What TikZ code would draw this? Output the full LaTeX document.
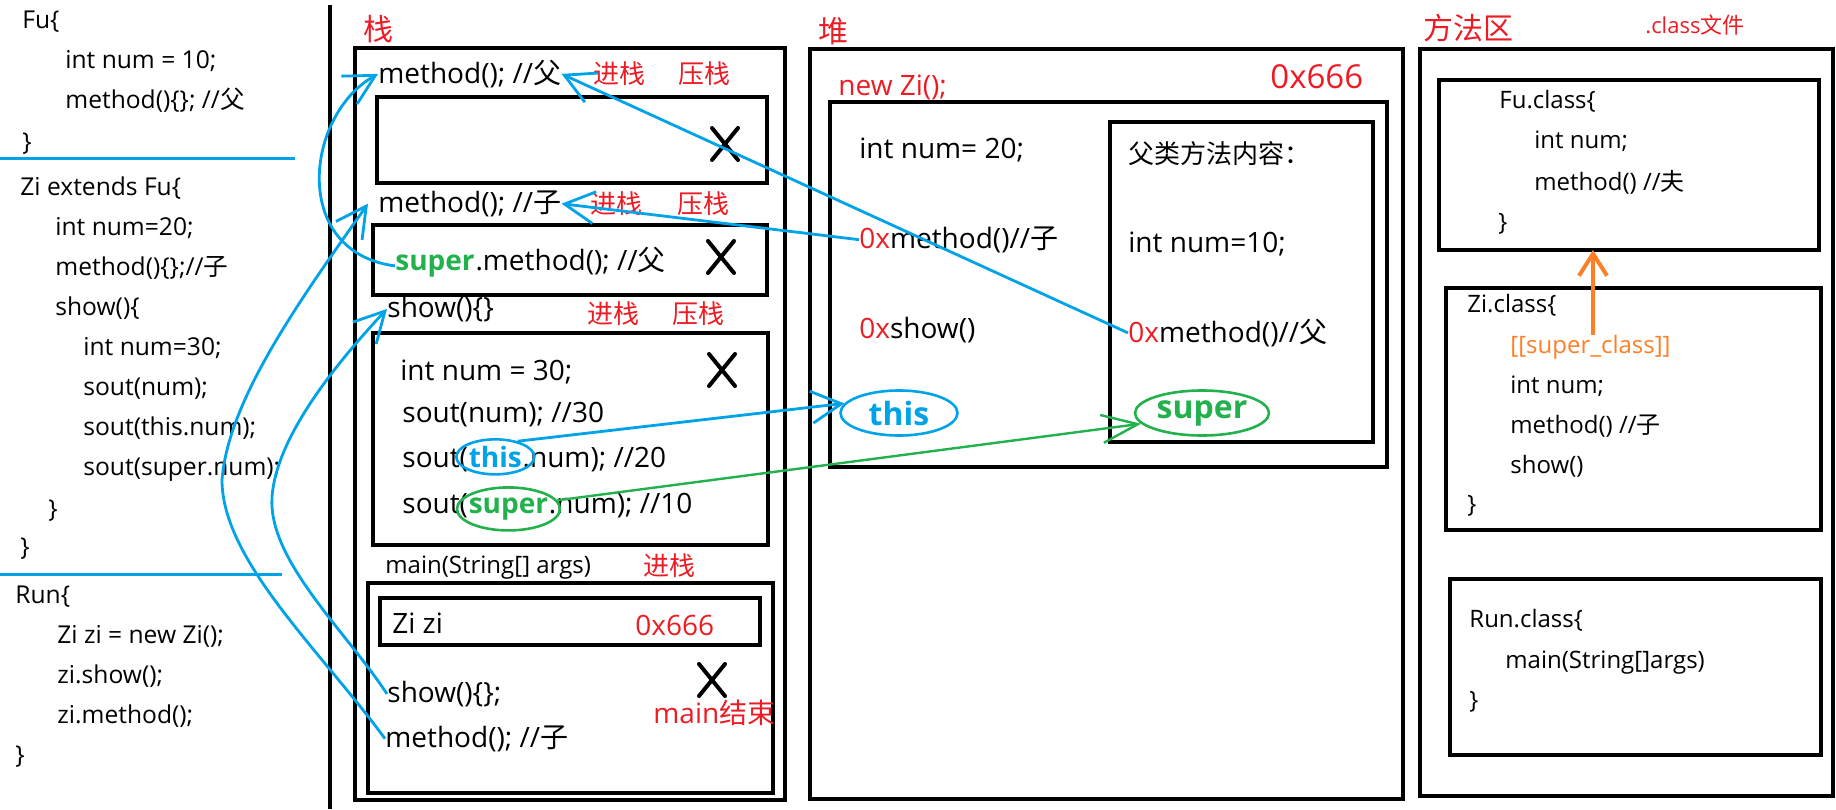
\documentclass[tikz,border=0pt]{standalone}
\usepackage{fontspec}
\setmainfont{Open Sans}
\newfontfamily\cjk{Noto Sans CJK SC}
\newcommand\zh[1]{{\cjk #1}}
\usetikzlibrary{arrows.meta,positioning,shapes.geometric}
\definecolor{MemRed}{HTML}{ED1C24}
\definecolor{MemBlue}{HTML}{00A2E8}
\definecolor{MemGreen}{HTML}{22B14C}
\definecolor{MemOrange}{HTML}{FF7F27}
\tikzset{every node/.style={inner sep=0pt,anchor=mid west},
 memline/.style={draw,line width=2.2pt},
 code/.style={font=\fontsize{12.3}{15}\selectfont},
 stk/.style={font=\fontsize{14}{17}\selectfont},
 stkb/.style={font=\fontsize{14}{17}\selectfont\bfseries},
 cls/.style={font=\fontsize{12}{14}\selectfont},
 tag/.style={text=MemRed,font=\cjk\fontsize{13}{15}\selectfont},
 area/.style={text=MemRed,font=\cjk\fontsize{15}{18}\selectfont},
 crossmark/.style={line width=2pt,line cap=round},
 hoop/.style={ellipse,line width=1.3pt,anchor=center},
 callarrow/.style={draw=MemBlue,line width=1.4pt,-{Straight Barb[length=15pt,width=16pt]}},
 superarrow/.style={draw=MemGreen,line width=1.2pt,-{Straight Barb[length=18pt,width=14pt]}}}
\begin{document}
\begin{tikzpicture}[x=0.5pt,y=-0.5pt]
\useasboundingbox (0,0) rectangle (1836,809);
% source code column
\foreach \x/\y/\t [count=\i] in {22/23/{Fu\{},65/63/{int num = 10;},65/103/{method()\{\}; //\zh{父}},
 22/145/{\}},20/190/{Zi extends Fu\{},55/230/{int num=20;},55/270/{method()\{\};//\zh{子}},
 55/310/{show()\{},83/350/{int num=30;},83/390/{sout(num);},83/430/{sout(this.num);},
 83/470/{sout(super.num);},48/512/{\}},20/550/{\}},15/598/{Run\{},57/638/{Zi zi = new Zi();},
 57/678/{zi.show();},57/718/{zi.method();},15/758/{\}}}
 \node[code] (src\i) at (\x,\y) {\t};
\draw[MemBlue,line width=1.5pt] (0,158) -- (295,158) (0,574) -- (282,574);
\draw[line width=2pt] (330,5) -- (330,809);
% memory frames
\foreach \a/\b/\c/\d in {355/48/785/800,377/97/767/183,373/225/767/295,373/333/768/545,
 368/583/773/793,380/598/760/645,810/49/1403/799,830/102/1387/467,1110/122/1373/442,
 1420/49/1833/796,1439/80/1819/250,1446/288/1821/530,1450/579/1821/755}
 \draw[memline] (\a,\b) rectangle (\c,\d);
\foreach \cx/\cy in {725/144,721/257,722/370,712/680}
 \draw[crossmark] (\cx-13,\cy-16) -- (\cx+13,\cy+16) (\cx-13,\cy+16) -- (\cx+13,\cy-16);
% stack
\node[area] (stackT) at (363,35) {栈};
\node[stk] (sFuM) at (378,78) {method(); //\zh{父}};
\node[stk] (sZiM) at (378,207) {method(); //\zh{子}};
\node[stkb,text=MemGreen] (sSupTxt) at (395,265) {super};
\node[stk,anchor=base west] (sSupRest) at (sSupTxt.base east) {.method(); //\zh{父}};
\node[stk] (sShow) at (387,312) {show()\{\}};
\foreach \y/\a/\b in {78/593/678,208/590/677,318/587/672}
 {\node[tag] (push\y) at (\a,\y) {进栈}; \node[tag] (press\y) at (\b,\y) {压栈};}
\node[stk] (sNum) at (400,375) {int num = 30;};
\node[stk] (s30) at (402,417) {sout(num); //30};
\node[stk] (s20a) at (402,462) {sout(};
\node[stkb,anchor=base west,text=MemBlue] (sThisTxt) at (s20a.base east) {this};
\node[stk,anchor=base west] (s20b) at (sThisTxt.base east) {.num); //20};
\node[hoop,draw=MemBlue,minimum width=39pt,minimum height=17.5pt] (sThis) at (sThisTxt.center) {};
\node[stk] (s10a) at (402,508) {sout(};
\node[stkb,anchor=base west,text=MemGreen] (sSupW) at (s10a.base east) {super};
\node[stk,anchor=base west] (s10b) at (sSupW.base east) {.num); //10};
\node[hoop,draw=MemGreen,minimum width=51.5pt,minimum height=21.5pt] (sSuper) at (sSupW.center) {};
\node[font=\fontsize{12}{14}\selectfont] (sMain) at (385,568) {main(String[] args)};
\node[tag] (pushMain) at (643,570) {进栈};
\node[stk] (sZi) at (392,628) {Zi zi};
\node[stk,text=MemRed] (sAddr) at (635,630) {0x666};
\node[stk] (mShow) at (387,697) {show()\{\};};
\node[stk] (mZiM) at (385,742) {method(); //\zh{子}};
\node[stk,text=MemRed] (mEnd) at (653,718) {main\zh{结束}};
% heap
\node[area] (heapT) at (818,37) {堆};
\node[stk,text=MemRed] (hNew) at (838,90) {new Zi();};
\node[text=MemRed,font=\fontsize{16.5}{19}\selectfont] (hAddr) at (1270,83) {0x666};
\node[stk] (hNum) at (859,153) {int num= 20;};
\node[stk] (hZiM) at (859,243) {\textcolor{MemRed}{0x}method()//\zh{子}};
\node[stk] (hShow) at (859,333) {\textcolor{MemRed}{0x}show()};
\node[hoop,draw=MemBlue,text=MemBlue,font=\fontsize{16}{19}\selectfont\bfseries,
 minimum width=58.5pt,minimum height=22.5pt] (hThis) at (899,413) {this};
\node[font=\cjk\fontsize{13}{16}\selectfont] (hFuT) at (1128,158) {父类方法内容：};
\node[stk] (hFuNum) at (1128,247) {int num=10;};
\node[stk] (hFuM) at (1128,337) {\textcolor{MemRed}{0x}method()//\zh{父}};
\node[hoop,draw=MemGreen,text=MemGreen,font=\fontsize{16}{19}\selectfont\bfseries,
 minimum width=67pt,minimum height=22.5pt] (hSuper) at (1202,413) {super};
% method area
\node[area] (methT) at (1423,34) {方法区};
\node[text=MemRed,font=\fontsize{11}{13}\selectfont] (clsT) at (1645,28) {.class\zh{文件}};
\foreach \x/\y/\t [count=\i] in {1499/103/{Fu.class\{},1534/143/{int num;},1534/185/{method() //\zh{夫}},
 1498/225/{\}},1467/307/{Zi.class\{},1510/388/{int num;},1510/428/{method() //\zh{子}},
 1510/468/{show()},1467/507/{\}},1469/622/{Run.class\{},1505/663/{main(String[]args)},1469/703/{\}}}
 \node[cls] (cls\i) at (\x,\y) {\t};
\node[cls,text=MemOrange] (zSup) at (1510,348) {[[super\_class]]};
\coordinate (fuBot) at (1593,250);
% calls and references
\draw[callarrow] (hFuM.west) -- (sFuM.east);
\draw[callarrow] (hZiM.west) -- (sZiM.east);
\draw[callarrow] (sThis.35) -- (hThis.170);
\draw[superarrow] (sSuper.10) -- (hSuper.190);
\draw[callarrow] (sSupTxt.west) .. controls (290,252) and (305,115) .. (sFuM.west);
\draw[callarrow] (mZiM.west) .. controls (320,650) and (222,560) .. (222,480)
 .. controls (228,400) and (300,300) .. ([xshift=-5pt]sZiM.west);
\draw[callarrow] (mShow.west) .. controls (345,630) and (268,560) .. (272,497)
 .. controls (276,440) and (330,370) .. (sShow.west);
\draw[draw=MemOrange,line width=2pt,-{Straight Barb[length=11pt,width=14pt]}] (zSup.north -| fuBot) -- (fuBot);
\end{tikzpicture}
\end{document}
